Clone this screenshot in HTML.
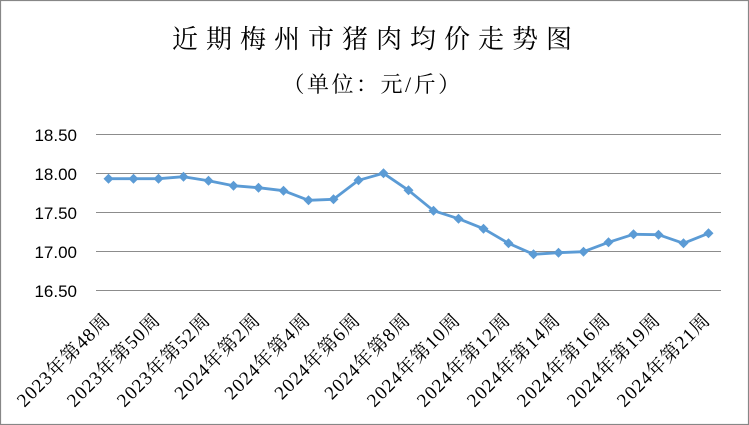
<!DOCTYPE html>
<html>
<head>
<meta charset="utf-8">
<style>
  html, body { margin:0; padding:0; background:#fff; }
  body { width:749px; height:425px; overflow:hidden; }
  svg { display:block; }
  .title { font-family:"Liberation Serif","Noto Serif CJK SC",serif; fill:#000; }
  .ylab { font-family:"Liberation Sans",sans-serif; font-size:17px; fill:#000; }
  .xlab { font-family:"Liberation Serif","Noto Serif CJK SC",serif; font-size:19px; fill:#000; letter-spacing:1px; }
</style>
</head>
<body>
<svg width="749" height="425" viewBox="0 0 749 425" xmlns="http://www.w3.org/2000/svg">
  <rect x="0.5" y="0.5" width="748" height="424" fill="#fff" stroke="#878787" stroke-width="1.2"/>

  <!-- title -->
  <text class="title" x="172" y="48" font-size="26" letter-spacing="8">近期梅州市猪肉均价走势图</text>
  <text class="title" x="282.5" y="92" font-size="22" letter-spacing="2.5">（单位：元/斤）</text>

  <!-- gridlines -->
  <g stroke="#8c8c8c" stroke-width="1">
    <line x1="96" y1="134.5" x2="721" y2="134.5"/>
    <line x1="96" y1="173.5" x2="721" y2="173.5"/>
    <line x1="96" y1="212.5" x2="721" y2="212.5"/>
    <line x1="96" y1="251.5" x2="721" y2="251.5"/>
    <line x1="96" y1="290.5" x2="721" y2="290.5"/>
  </g>

  <!-- y labels -->
  <g class="ylab" text-anchor="end">
    <text x="77" y="141">18.50</text>
    <text x="77" y="180">18.00</text>
    <text x="77" y="219">17.50</text>
    <text x="77" y="258">17.00</text>
    <text x="77" y="297">16.50</text>
  </g>

  <!-- series -->
  <polyline fill="none" stroke="#5b9bd5" stroke-width="2.8" stroke-linejoin="round"
    points="108.5,178.7 133.5,178.7 158.5,178.7 183.5,176.7 208.5,180.7 233.5,185.7 258.5,187.7 283.5,190.7 308.5,200.3 333.5,199.3 358.5,180.3 383.5,173.3 408.5,190.3 433.5,210.7 458.5,218.7 483.5,228.7 508.5,243.3 533.5,254.3 558.5,252.7 583.5,251.7 608.5,242.3 633.5,234.3 658.5,234.7 683.5,243.3 708.5,233.3"/>
  <g fill="#5b9bd5">
    <path d="M108.5,173.7 l5,5 -5,5 -5,-5z"/>
    <path d="M133.5,173.7 l5,5 -5,5 -5,-5z"/>
    <path d="M158.5,173.7 l5,5 -5,5 -5,-5z"/>
    <path d="M183.5,171.7 l5,5 -5,5 -5,-5z"/>
    <path d="M208.5,175.7 l5,5 -5,5 -5,-5z"/>
    <path d="M233.5,180.7 l5,5 -5,5 -5,-5z"/>
    <path d="M258.5,182.7 l5,5 -5,5 -5,-5z"/>
    <path d="M283.5,185.7 l5,5 -5,5 -5,-5z"/>
    <path d="M308.5,195.3 l5,5 -5,5 -5,-5z"/>
    <path d="M333.5,194.3 l5,5 -5,5 -5,-5z"/>
    <path d="M358.5,175.3 l5,5 -5,5 -5,-5z"/>
    <path d="M383.5,168.3 l5,5 -5,5 -5,-5z"/>
    <path d="M408.5,185.3 l5,5 -5,5 -5,-5z"/>
    <path d="M433.5,205.7 l5,5 -5,5 -5,-5z"/>
    <path d="M458.5,213.7 l5,5 -5,5 -5,-5z"/>
    <path d="M483.5,223.7 l5,5 -5,5 -5,-5z"/>
    <path d="M508.5,238.3 l5,5 -5,5 -5,-5z"/>
    <path d="M533.5,249.3 l5,5 -5,5 -5,-5z"/>
    <path d="M558.5,247.7 l5,5 -5,5 -5,-5z"/>
    <path d="M583.5,246.7 l5,5 -5,5 -5,-5z"/>
    <path d="M608.5,237.3 l5,5 -5,5 -5,-5z"/>
    <path d="M633.5,229.3 l5,5 -5,5 -5,-5z"/>
    <path d="M658.5,229.7 l5,5 -5,5 -5,-5z"/>
    <path d="M683.5,238.3 l5,5 -5,5 -5,-5z"/>
    <path d="M708.5,228.3 l5,5 -5,5 -5,-5z"/>
  </g>

  <!-- x labels -->
  <g class="xlab" text-anchor="end">
    <text x="111.5" y="321" transform="rotate(-45 111.5 321)">2023年第48周</text>
    <text x="161.5" y="321" transform="rotate(-45 161.5 321)">2023年第50周</text>
    <text x="211.5" y="321" transform="rotate(-45 211.5 321)">2023年第52周</text>
    <text x="261.5" y="321" transform="rotate(-45 261.5 321)">2024年第2周</text>
    <text x="311.5" y="321" transform="rotate(-45 311.5 321)">2024年第4周</text>
    <text x="361.5" y="321" transform="rotate(-45 361.5 321)">2024年第6周</text>
    <text x="411.5" y="321" transform="rotate(-45 411.5 321)">2024年第8周</text>
    <text x="461.5" y="321" transform="rotate(-45 461.5 321)">2024年第10周</text>
    <text x="511.5" y="321" transform="rotate(-45 511.5 321)">2024年第12周</text>
    <text x="561.5" y="321" transform="rotate(-45 561.5 321)">2024年第14周</text>
    <text x="611.5" y="321" transform="rotate(-45 611.5 321)">2024年第16周</text>
    <text x="661.5" y="321" transform="rotate(-45 661.5 321)">2024年第19周</text>
    <text x="711.5" y="321" transform="rotate(-45 711.5 321)">2024年第21周</text>
  </g>
</svg>
</body>
</html>
